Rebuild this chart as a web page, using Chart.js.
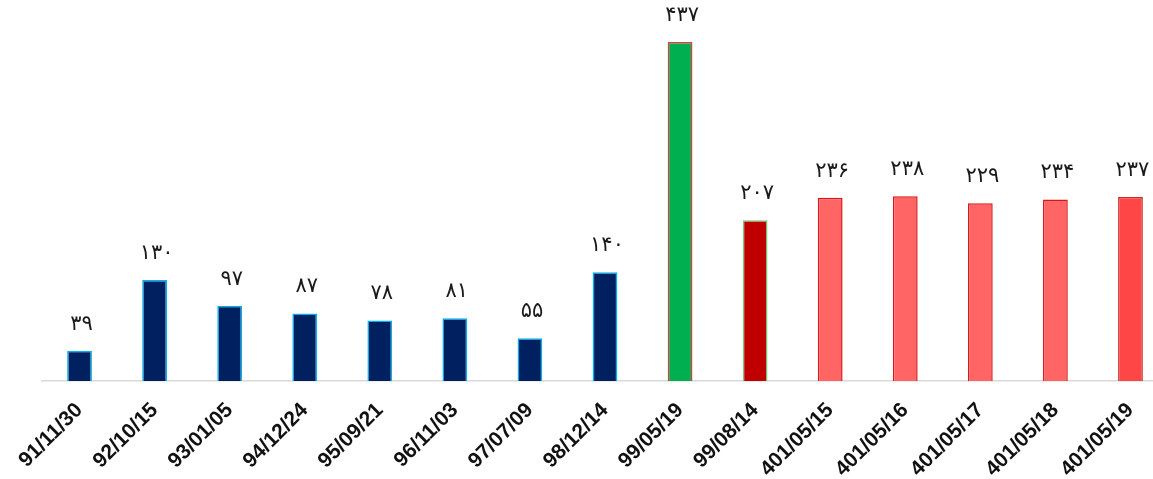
<!DOCTYPE html>
<html>
<head>
<meta charset="utf-8">
<script src="https://cdn.jsdelivr.net/npm/chart.js@4.4.1/dist/chart.umd.min.js"></script>
<style>
  html, body { margin: 0; padding: 0; background: #fff; overflow: hidden; }
  #wrap { width: 1168px; height: 479px; }
</style>
</head>
<body>
<div id="wrap"><canvas id="chart"></canvas></div>
<script>
// دسته‌ها (تاریخ‌ها) و مقادیر
const dates = [
  "91/11/30", "92/10/15", "93/01/05", "94/12/24", "95/09/21",
  "96/11/03", "97/07/09", "98/12/14", "99/05/19", "99/08/14",
  "401/05/15", "401/05/16", "401/05/17", "401/05/18", "401/05/19"
];
const values = [39, 130, 97, 87, 78, 81, 55, 140, 437, 207, 236, 238, 229, 234, 237];

const fillColors = [
  "#002060", "#002060", "#002060", "#002060", "#002060",
  "#002060", "#002060", "#002060", "#00B050", "#C00000",
  "#FF6565", "#FF6565", "#FF6565", "#FF6565", "#FF4646"
];
const borderColors = [
  "#00B0F0", "#00B0F0", "#00B0F0", "#00B0F0", "#00B0F0",
  "#00B0F0", "#00B0F0", "#00B0F0", "#E03A3A", "#7CC47C",
  "#D81818", "#D81818", "#D81818", "#D81818", "#D02828"
];

const faDigits = "۰۱۲۳۴۵۶۷۸۹";
function toPersian(n) {
  return String(n).replace(/\d/g, d => faDigits[d]);
}

// اعداد بالای ستون‌ها
const valueLabels = {
  id: "valueLabels",
  afterDatasetsDraw(chart) {
    const ctx = chart.ctx;
    const meta = chart.getDatasetMeta(0);
    const spacing = 6;
    ctx.save();
    ctx.font = "21px 'DejaVu Sans'";
    ctx.fillStyle = "#1a1a1a";
    ctx.textAlign = "center";
    ctx.textBaseline = "bottom";
    ctx.letterSpacing = spacing + "px";
    meta.data.forEach((bar, i) => {
      ctx.fillText(toPersian(values[i]), bar.x + spacing / 2 - 1, bar.y - 16);
    });
    ctx.restore();
  }
};

new Chart(document.getElementById("chart"), {
  type: "bar",
  data: {
    labels: dates,
    datasets: [{
      data: values,
      backgroundColor: fillColors,
      borderColor: borderColors,
      borderWidth: 1.5,
      barPercentage: 0.33,
      categoryPercentage: 1
    }]
  },
  options: {
    responsive: true,
    maintainAspectRatio: false,
    animation: false,
    layout: { padding: { left: 42, right: 0, top: 0, bottom: 0 } },
    plugins: {
      legend: { display: false },
      tooltip: { enabled: false }
    },
    scales: {
      x: {
        grid: { display: false },
        border: { display: true, color: "#D9D9D9", width: 1.5 },
        ticks: {
          minRotation: 45,
          maxRotation: 45,
          padding: 9,
          color: "#111",
          font: { family: "'Liberation Sans', Arial", size: 21, weight: "bold" }
        },
        afterFit(scale) { scale.height = 98; }
      },
      y: {
        display: false,
        min: 0,
        max: 491
      }
    }
  },
  plugins: [valueLabels]
});
</script>
</body>
</html>
